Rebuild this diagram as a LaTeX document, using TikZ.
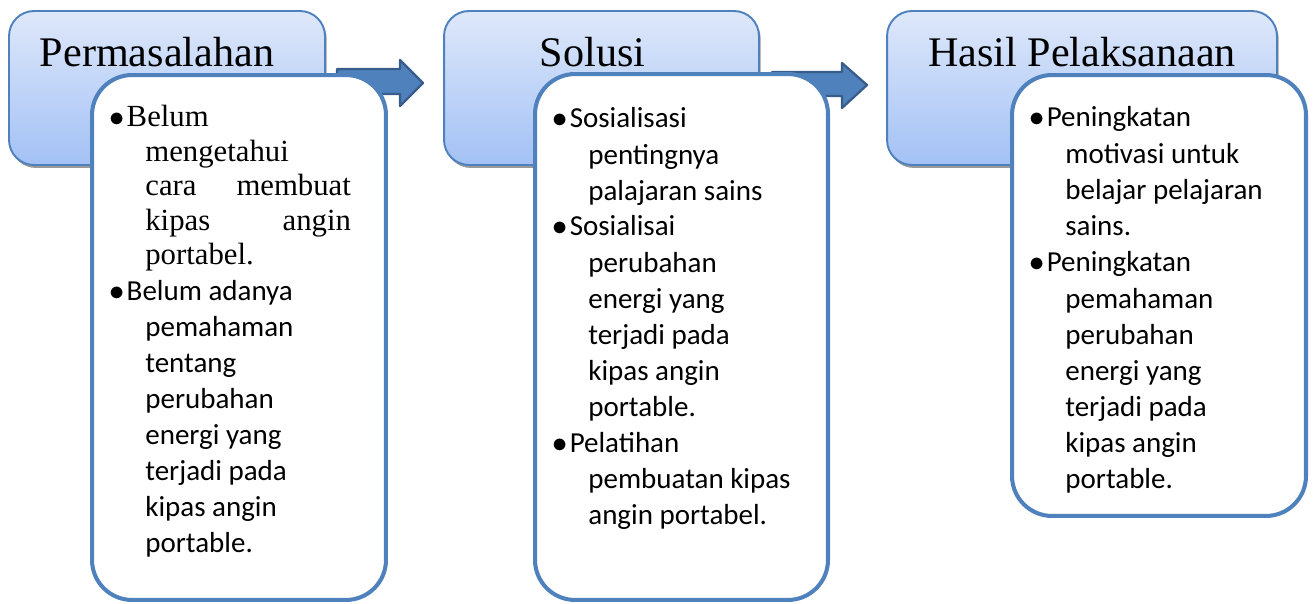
\documentclass[tikz,border=0pt]{standalone}
\usepackage{fontspec}
\setmainfont{Liberation Serif}
\newfontfamily\bodyfont{Carlito}
\usepackage{tikz}
\usetikzlibrary{positioning}
\usetikzlibrary{shadows}
\usepackage{xcolor}

\definecolor{boxblue}{RGB}{79,129,189}
\definecolor{arrowedge}{RGB}{56,93,138}
\definecolor{headtop}{RGB}{222,232,250}
\definecolor{headbottom}{RGB}{163,193,245}

\newcommand{\itembul}{\makebox[9.9pt][l]{$\bullet$}}
\newcommand{\itemind}{\hspace*{20.5pt}}
% list lines, first baseline on the node's base
\newcommand{\itemlines}[1]{\begin{tabular}[t]{@{}l@{}}#1\end{tabular}}

\tikzset{
    headbox/.style={draw=boxblue, line width=1.1pt, rounded corners=0.5cm,
        top color=headtop, bottom color=headbottom, inner sep=0pt, outer sep=0pt,
        minimum height=3.08cm,
        general shadow={fill=black!40, shadow xshift=1pt, shadow yshift=-1.7pt}},
    headtitle/.style={anchor=base, inner sep=0pt, font=\fontsize{24}{28}\selectfont},
    bodybox/.style={draw=boxblue, line width=2.3pt, rounded corners=0.8cm,
        fill=white, inner sep=0pt, outer sep=0pt},
    blockarrow/.style={fill=boxblue, draw=arrowedge, line width=1.3pt, line join=round},
    itemtext/.style={anchor=base west, inner sep=0pt,
        font=\bodyfont\fontsize{16.5}{20.5}\selectfont},
    itemserif/.style={anchor=base west, inner sep=0pt,
        font=\fontsize{17.5}{19.6}\selectfont}
}

\begin{document}
\begin{tikzpicture}[x=0.02cm, y=-0.02cm]
    \useasboundingbox (0,0) rectangle (1314,604);

    % Header boxes
    \node[headbox, minimum width=6.32cm] (h1) at (167,88) {};
    \node[headbox, minimum width=6.30cm] (h2) at (601.5,88) {};
    \node[headbox, minimum width=7.80cm] (h3) at (1082,88) {};

    \node[headtitle] (t1) at ([xshift=-0.2cm,yshift=-1.1cm]h1.north) {Permasalahan};
    \node[headtitle] (t2) at ([xshift=-0.18cm,yshift=-1.1cm]h2.north) {Solusi};
    \node[headtitle] (t3) at ([yshift=-1.1cm]h3.north) {Hasil Pelaksanaan};

    % Arrows between the headers
    \draw[blockarrow] (337,69) -- (400,69) -- (400,60) -- (423,83)
        -- (400,106) -- (400,94) -- (337,94) -- cycle;
    \draw[blockarrow] (772,72) -- (842,72) -- (842,63) -- (867,85)
        -- (842,108) -- (842,96) -- (772,96) -- cycle;

    % Body boxes
    \node[bodybox, minimum width=5.88cm, minimum height=10.5cm] (b1) at (239,337.5) {};
    \node[bodybox, minimum width=5.86cm, minimum height=10.52cm] (b2) at (681.5,337) {};
    \node[bodybox, minimum width=5.88cm, minimum height=8.82cm] (b3) at (1159,295.5) {};

    % First box
    \node[itemserif] (b1a) at (109,127) {\itemlines{\itembul Belum\\
        \itemind mengetahui\\
        \itemind\makebox[117pt][s]{cara membuat}\\
        \itemind\makebox[117pt][s]{kipas angin}\\
        \itemind portabel.}};
    \node[itemtext] (b1b) at (109,300) {\itemlines{\itembul Belum adanya\\
        \itemind pemahaman\\
        \itemind tentang\\
        \itemind perubahan\\
        \itemind energi yang\\
        \itemind terjadi pada\\
        \itemind kipas angin\\
        \itemind portable.}};

    % Second box
    \node[itemtext] (b2a) at (552,128) {\itemlines{\itembul Sosialisasi\\
        \itemind pentingnya\\
        \itemind palajaran sains}};
    \node[itemtext] (b2b) at (552,236) {\itemlines{\itembul Sosialisai\\
        \itemind perubahan\\
        \itemind energi yang\\
        \itemind terjadi pada\\
        \itemind kipas angin\\
        \itemind portable.}};
    \node[itemtext] (b2c) at (552,452) {\itemlines{\itembul Pelatihan\\
        \itemind pembuatan kipas\\
        \itemind angin portabel.}};

    % Third box
    \node[itemtext] (b3a) at (1029,127) {\itemlines{\itembul Peningkatan\\
        \itemind motivasi untuk\\
        \itemind belajar pelajaran\\
        \itemind sains.}};
    \node[itemtext] (b3b) at (1029,272) {\itemlines{\itembul Peningkatan\\
        \itemind pemahaman\\
        \itemind perubahan\\
        \itemind energi yang\\
        \itemind terjadi pada\\
        \itemind kipas angin\\
        \itemind portable.}};
\end{tikzpicture}
\end{document}
